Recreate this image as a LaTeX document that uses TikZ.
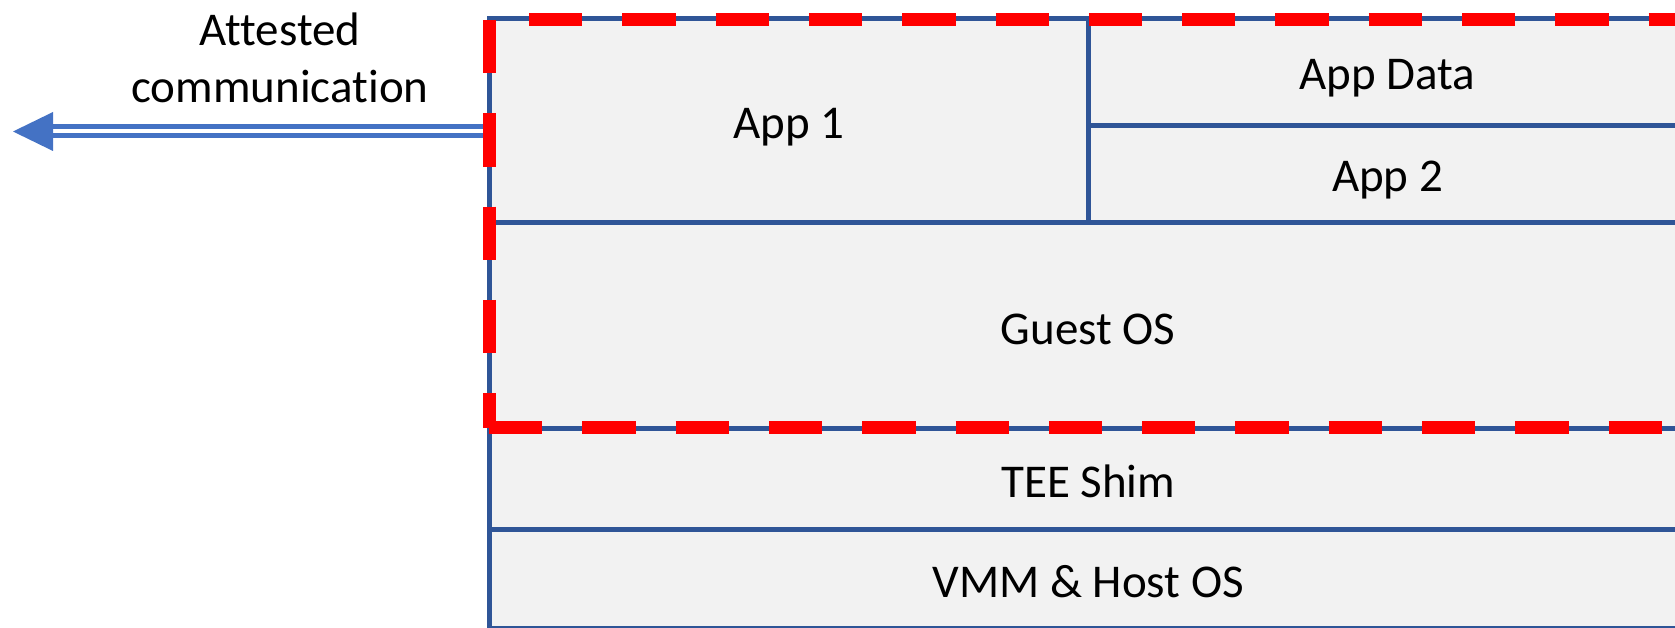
\documentclass[tikz,border=0pt]{standalone}
\usepackage{fontspec}
\setmainfont{Carlito}[Ligatures=NoCommon]
\usetikzlibrary{calc}
\definecolor{boxblue}{HTML}{2F5597}
\definecolor{boxfill}{HTML}{F2F2F2}
\definecolor{arrowblue}{HTML}{4472C4}
\definecolor{dashred}{HTML}{FF0000}
\begin{document}
\begin{tikzpicture}[x=1pt,y=-1pt,
  layer/.style={draw=boxblue, fill=boxfill, line width=5pt, inner sep=0pt, outer sep=0pt, rectangle},
  lbl/.style={font=\fontsize{47}{57}\selectfont, anchor=base, inner sep=0pt, text=black},
  reddash/.style={draw=dashred, line width=13pt, dash pattern=on 53.3pt off 40pt, line cap=butt},
  dbl/.style={draw=arrowblue, double=white, double distance=4pt, line width=5pt}]
\useasboundingbox (0,0) rectangle (1675,628);
\clip (0,0) rectangle (1675,628);
% layers
\node[layer, minimum width=598.5pt, minimum height=204.5pt] (app1) at (788.75,120.75) {};
\node[layer, minimum width=599pt, minimum height=107.5pt] (appdata) at (1387.5,72.25) {};
\node[layer, minimum width=599pt, minimum height=97pt] (app2) at (1387.5,174.5) {};
\node[layer, minimum width=1197.5pt, minimum height=205pt] (guest) at (1088.25,325.5) {};
\node[layer, minimum width=1197.5pt, minimum height=101pt] (tee) at (1088.25,478.5) {};
\node[layer, minimum width=1197.5pt, minimum height=99.5pt] (vmm) at (1088.25,578.75) {};
% labels
\node[lbl] (tapp1) at (788.75,139) {App 1};
\node[lbl] (tappdata) at (1387.5,89.5) {App Data};
\node[lbl] (tapp2) at (1387.5,192) {App 2};
\node[lbl] (tguest) at (1088.25,344) {Guest OS};
\node[lbl] (ttee) at (1088.25,497) {TEE Shim};
\node[lbl] (tvmm) at (1088.25,597) {VMM \& Host OS};
\node[lbl, align=center] (att) at (280,102.5) {Attested\\communication};
% attested communication arrow
\coordinate (tip) at (13,131.5);
\coordinate (abase) at (53,131.5);
\draw[dbl] (app1.west |- tip) -- (abase);
\fill[arrowblue] (tip) -- ($(abase)+(0,19.5)$) -- ($(abase)+(0,-19.5)$) -- cycle;
% red dashed trust boundary
\draw[reddash] (489,20) -- (489,427.5);
\draw[reddash, dash phase=53.3pt] (489,20) -- (1687,20);
\draw[reddash] (489,427.5) -- (1687,427.5);
\end{tikzpicture}
\end{document}
